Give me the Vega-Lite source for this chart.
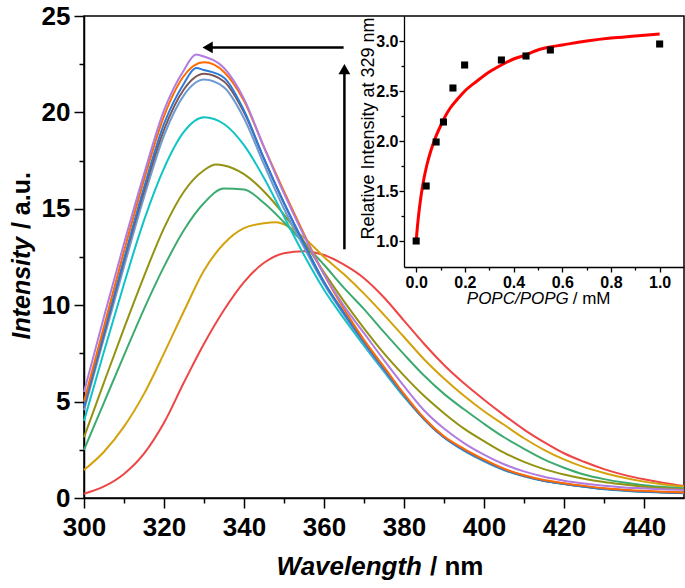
{
"$schema": "https://vega.github.io/schema/vega-lite/v6.json",
"width": 600, "height": 482,
"autosize": "none",
"padding": {"left": 84, "top": 16, "right": 1, "bottom": 90},
"background": "white",
"config": {
  "font": "Liberation Sans",
  "view": {"stroke": "black", "strokeWidth": 1.5},
  "axis": {"grid": false, "domainColor": "black", "tickColor": "black", "labelColor": "black", "titleColor": "black", "domainWidth": 1.5, "tickWidth": 1.5, "labelFont": "Liberation Sans", "titleFont": "Liberation Sans"}
},
"datasets": {
  "spec": [
{"s":"R","w":300,"v":0.22},{"s":"R","w":305,"v":0.6},{"s":"R","w":310,"v":1.25},{"s":"R","w":315,"v":2.3},{"s":"R","w":320,"v":3.9},{"s":"R","w":325,"v":6.0},{"s":"R","w":330,"v":8.0},{"s":"R","w":335,"v":9.75},{"s":"R","w":340,"v":11.2},{"s":"R","w":345,"v":12.2},{"s":"R","w":350,"v":12.7},{"s":"R","w":355,"v":12.8},{"s":"R","w":360,"v":12.6},{"s":"R","w":365,"v":12.1},{"s":"R","w":370,"v":11.4},{"s":"R","w":375,"v":10.4},{"s":"R","w":380,"v":9.2},{"s":"R","w":385,"v":8.0},{"s":"R","w":390,"v":6.9},{"s":"R","w":395,"v":5.95},{"s":"R","w":400,"v":5.1},{"s":"R","w":405,"v":4.3},{"s":"R","w":410,"v":3.55},{"s":"R","w":415,"v":2.9},{"s":"R","w":420,"v":2.32},{"s":"R","w":425,"v":1.88},{"s":"R","w":430,"v":1.5},{"s":"R","w":435,"v":1.2},{"s":"R","w":440,"v":0.97},{"s":"R","w":445,"v":0.78},{"s":"R","w":450,"v":0.62},
{"s":"Go","w":300,"v":1.45},{"s":"Go","w":305,"v":2.4},{"s":"Go","w":310,"v":3.7},{"s":"Go","w":315,"v":5.4},{"s":"Go","w":320,"v":7.5},{"s":"Go","w":325,"v":9.7},{"s":"Go","w":330,"v":11.8},{"s":"Go","w":335,"v":13.2},{"s":"Go","w":340,"v":14.0},{"s":"Go","w":345,"v":14.25},{"s":"Go","w":348,"v":14.3},{"s":"Go","w":350,"v":14.2},{"s":"Go","w":355,"v":13.5},{"s":"Go","w":360,"v":12.5},{"s":"Go","w":365,"v":11.6},{"s":"Go","w":370,"v":10.6},{"s":"Go","w":375,"v":9.5},{"s":"Go","w":380,"v":8.35},{"s":"Go","w":385,"v":7.2},{"s":"Go","w":390,"v":6.2},{"s":"Go","w":395,"v":5.3},{"s":"Go","w":400,"v":4.5},{"s":"Go","w":405,"v":3.8},{"s":"Go","w":410,"v":3.1},{"s":"Go","w":415,"v":2.5},{"s":"Go","w":420,"v":2.0},{"s":"Go","w":425,"v":1.6},{"s":"Go","w":430,"v":1.3},{"s":"Go","w":435,"v":1.05},{"s":"Go","w":440,"v":0.85},{"s":"Go","w":445,"v":0.7},{"s":"Go","w":450,"v":0.6},
{"s":"G","w":300,"v":2.5},{"s":"G","w":305,"v":4.95},{"s":"G","w":310,"v":7.4},{"s":"G","w":315,"v":9.8},{"s":"G","w":320,"v":12.0},{"s":"G","w":325,"v":13.9},{"s":"G","w":330,"v":15.3},{"s":"G","w":335,"v":16.05},{"s":"G","w":340,"v":16.0},{"s":"G","w":345,"v":15.3},{"s":"G","w":350,"v":14.3},{"s":"G","w":355,"v":13.2},{"s":"G","w":360,"v":12.1},{"s":"G","w":365,"v":10.9},{"s":"G","w":370,"v":9.8},{"s":"G","w":375,"v":8.6},{"s":"G","w":380,"v":7.45},{"s":"G","w":385,"v":6.35},{"s":"G","w":390,"v":5.4},{"s":"G","w":395,"v":4.6},{"s":"G","w":400,"v":3.85},{"s":"G","w":405,"v":3.15},{"s":"G","w":410,"v":2.55},{"s":"G","w":415,"v":2.0},{"s":"G","w":420,"v":1.57},{"s":"G","w":425,"v":1.22},{"s":"G","w":430,"v":0.98},{"s":"G","w":435,"v":0.8},{"s":"G","w":440,"v":0.66},{"s":"G","w":445,"v":0.57},{"s":"G","w":450,"v":0.5},
{"s":"Ol","w":300,"v":3.15},{"s":"Ol","w":305,"v":6.0},{"s":"Ol","w":310,"v":8.8},{"s":"Ol","w":315,"v":11.5},{"s":"Ol","w":320,"v":14.0},{"s":"Ol","w":325,"v":15.9},{"s":"Ol","w":330,"v":17.0},{"s":"Ol","w":333,"v":17.3},{"s":"Ol","w":335,"v":17.25},{"s":"Ol","w":340,"v":16.8},{"s":"Ol","w":345,"v":15.9},{"s":"Ol","w":350,"v":14.7},{"s":"Ol","w":355,"v":13.3},{"s":"Ol","w":360,"v":11.7},{"s":"Ol","w":365,"v":10.2},{"s":"Ol","w":370,"v":8.8},{"s":"Ol","w":375,"v":7.5},{"s":"Ol","w":380,"v":6.35},{"s":"Ol","w":385,"v":5.3},{"s":"Ol","w":390,"v":4.4},{"s":"Ol","w":395,"v":3.6},{"s":"Ol","w":400,"v":2.95},{"s":"Ol","w":405,"v":2.35},{"s":"Ol","w":410,"v":1.87},{"s":"Ol","w":415,"v":1.5},{"s":"Ol","w":420,"v":1.22},{"s":"Ol","w":425,"v":1.0},{"s":"Ol","w":430,"v":0.83},{"s":"Ol","w":435,"v":0.7},{"s":"Ol","w":440,"v":0.58},{"s":"Ol","w":445,"v":0.5},{"s":"Ol","w":450,"v":0.45},
{"s":"C","w":300,"v":4.0},{"s":"C","w":305,"v":7.6},{"s":"C","w":310,"v":11.1},{"s":"C","w":315,"v":14.4},{"s":"C","w":320,"v":17.1},{"s":"C","w":325,"v":19.0},{"s":"C","w":330,"v":19.75},{"s":"C","w":335,"v":19.4},{"s":"C","w":340,"v":18.3},{"s":"C","w":345,"v":16.6},{"s":"C","w":350,"v":14.6},{"s":"C","w":355,"v":12.6},{"s":"C","w":360,"v":10.8},{"s":"C","w":365,"v":9.3},{"s":"C","w":370,"v":7.9},{"s":"C","w":375,"v":6.55},{"s":"C","w":380,"v":5.25},{"s":"C","w":385,"v":4.1},{"s":"C","w":390,"v":3.15},{"s":"C","w":395,"v":2.45},{"s":"C","w":400,"v":1.9},{"s":"C","w":405,"v":1.45},{"s":"C","w":410,"v":1.12},{"s":"C","w":415,"v":0.88},{"s":"C","w":420,"v":0.72},{"s":"C","w":425,"v":0.58},{"s":"C","w":430,"v":0.46},{"s":"C","w":435,"v":0.38},{"s":"C","w":440,"v":0.32},{"s":"C","w":445,"v":0.28},{"s":"C","w":450,"v":0.25},
{"s":"S","w":300,"v":4.55},{"s":"S","w":305,"v":8.3},{"s":"S","w":310,"v":12.0},{"s":"S","w":315,"v":15.6},{"s":"S","w":320,"v":18.8},{"s":"S","w":325,"v":20.9},{"s":"S","w":330,"v":21.7},{"s":"S","w":335,"v":21.3},{"s":"S","w":340,"v":19.7},{"s":"S","w":345,"v":17.3},{"s":"S","w":350,"v":15.0},{"s":"S","w":355,"v":13.0},{"s":"S","w":360,"v":11.1},{"s":"S","w":365,"v":9.5},{"s":"S","w":370,"v":8.0},{"s":"S","w":375,"v":6.6},{"s":"S","w":380,"v":5.3},{"s":"S","w":385,"v":4.1},{"s":"S","w":390,"v":3.15},{"s":"S","w":395,"v":2.45},{"s":"S","w":400,"v":1.92},{"s":"S","w":405,"v":1.46},{"s":"S","w":410,"v":1.13},{"s":"S","w":415,"v":0.89},{"s":"S","w":420,"v":0.73},{"s":"S","w":425,"v":0.59},{"s":"S","w":430,"v":0.47},{"s":"S","w":435,"v":0.39},{"s":"S","w":440,"v":0.33},{"s":"S","w":445,"v":0.29},{"s":"S","w":450,"v":0.26},
{"s":"Br","w":300,"v":4.7},{"s":"Br","w":305,"v":8.5},{"s":"Br","w":310,"v":12.3},{"s":"Br","w":315,"v":15.9},{"s":"Br","w":320,"v":19.1},{"s":"Br","w":325,"v":21.2},{"s":"Br","w":330,"v":22.0},{"s":"Br","w":335,"v":21.6},{"s":"Br","w":340,"v":20.0},{"s":"Br","w":345,"v":17.6},{"s":"Br","w":350,"v":15.3},{"s":"Br","w":355,"v":13.2},{"s":"Br","w":360,"v":11.2},{"s":"Br","w":365,"v":9.6},{"s":"Br","w":370,"v":8.1},{"s":"Br","w":375,"v":6.7},{"s":"Br","w":380,"v":5.35},{"s":"Br","w":385,"v":4.1},{"s":"Br","w":390,"v":3.15},{"s":"Br","w":395,"v":2.5},{"s":"Br","w":400,"v":1.95},{"s":"Br","w":405,"v":1.48},{"s":"Br","w":410,"v":1.15},{"s":"Br","w":415,"v":0.9},{"s":"Br","w":420,"v":0.74},{"s":"Br","w":425,"v":0.6},{"s":"Br","w":430,"v":0.48},{"s":"Br","w":435,"v":0.4},{"s":"Br","w":440,"v":0.34},{"s":"Br","w":445,"v":0.3},{"s":"Br","w":450,"v":0.27},
{"s":"B","w":300,"v":4.75},{"s":"B","w":305,"v":8.6},{"s":"B","w":310,"v":12.4},{"s":"B","w":315,"v":16.1},{"s":"B","w":320,"v":19.4},{"s":"B","w":325,"v":21.5},{"s":"B","w":328,"v":22.3},{"s":"B","w":330,"v":22.2},{"s":"B","w":335,"v":21.8},{"s":"B","w":340,"v":20.1},{"s":"B","w":345,"v":17.6},{"s":"B","w":350,"v":15.3},{"s":"B","w":355,"v":13.2},{"s":"B","w":360,"v":11.2},{"s":"B","w":365,"v":9.6},{"s":"B","w":370,"v":8.1},{"s":"B","w":375,"v":6.7},{"s":"B","w":380,"v":5.35},{"s":"B","w":385,"v":4.1},{"s":"B","w":390,"v":3.15},{"s":"B","w":395,"v":2.5},{"s":"B","w":400,"v":1.95},{"s":"B","w":405,"v":1.48},{"s":"B","w":410,"v":1.15},{"s":"B","w":415,"v":0.9},{"s":"B","w":420,"v":0.74},{"s":"B","w":425,"v":0.6},{"s":"B","w":430,"v":0.48},{"s":"B","w":435,"v":0.4},{"s":"B","w":440,"v":0.34},{"s":"B","w":445,"v":0.3},{"s":"B","w":450,"v":0.26},
{"s":"O","w":300,"v":5.0},{"s":"O","w":305,"v":8.9},{"s":"O","w":310,"v":12.8},{"s":"O","w":315,"v":16.5},{"s":"O","w":320,"v":19.8},{"s":"O","w":325,"v":21.9},{"s":"O","w":330,"v":22.6},{"s":"O","w":335,"v":22.1},{"s":"O","w":340,"v":20.6},{"s":"O","w":345,"v":18.2},{"s":"O","w":350,"v":15.9},{"s":"O","w":355,"v":13.7},{"s":"O","w":360,"v":11.6},{"s":"O","w":365,"v":9.8},{"s":"O","w":370,"v":8.2},{"s":"O","w":375,"v":6.8},{"s":"O","w":380,"v":5.4},{"s":"O","w":385,"v":4.15},{"s":"O","w":390,"v":3.2},{"s":"O","w":395,"v":2.55},{"s":"O","w":400,"v":2.0},{"s":"O","w":405,"v":1.52},{"s":"O","w":410,"v":1.18},{"s":"O","w":415,"v":0.93},{"s":"O","w":420,"v":0.77},{"s":"O","w":425,"v":0.63},{"s":"O","w":430,"v":0.51},{"s":"O","w":435,"v":0.43},{"s":"O","w":440,"v":0.37},{"s":"O","w":445,"v":0.33},{"s":"O","w":450,"v":0.29},
{"s":"P","w":300,"v":5.5},{"s":"P","w":305,"v":9.4},{"s":"P","w":310,"v":13.2},{"s":"P","w":315,"v":16.8},{"s":"P","w":320,"v":20.1},{"s":"P","w":325,"v":22.2},{"s":"P","w":328,"v":23.0},{"s":"P","w":330,"v":22.9},{"s":"P","w":335,"v":22.3},{"s":"P","w":340,"v":20.7},{"s":"P","w":345,"v":18.2},{"s":"P","w":350,"v":15.8},{"s":"P","w":355,"v":13.6},{"s":"P","w":360,"v":11.6},{"s":"P","w":365,"v":9.95},{"s":"P","w":370,"v":8.55},{"s":"P","w":375,"v":7.15},{"s":"P","w":380,"v":5.8},{"s":"P","w":385,"v":4.55},{"s":"P","w":390,"v":3.6},{"s":"P","w":395,"v":2.85},{"s":"P","w":400,"v":2.25},{"s":"P","w":405,"v":1.75},{"s":"P","w":410,"v":1.38},{"s":"P","w":415,"v":1.1},{"s":"P","w":420,"v":0.9},{"s":"P","w":425,"v":0.75},{"s":"P","w":430,"v":0.63},{"s":"P","w":435,"v":0.55},{"s":"P","w":440,"v":0.5},{"s":"P","w":445,"v":0.45},{"s":"P","w":450,"v":0.42}
  ],
  "arrows": [
    {"x1": 364.9, "x2": 331.0, "y1": 23.37, "y2": 23.37},
    {"x1": 365.1, "x2": 365.1, "y1": 12.9, "y2": 22.2}
  ],
  "heads": [
    {"hx": 330.9, "hy": 23.37, "dir": "left"},
    {"hx": 365.1, "hy": 22.25, "dir": "up"}
  ],
  "pts": [
    {"c": 0.0, "r": 1.0}, {"c": 0.041, "r": 1.55}, {"c": 0.082, "r": 1.99}, {"c": 0.112, "r": 2.19},
    {"c": 0.151, "r": 2.53}, {"c": 0.199, "r": 2.76}, {"c": 0.35, "r": 2.81}, {"c": 0.451, "r": 2.85},
    {"c": 0.551, "r": 2.91}, {"c": 1.0, "r": 2.97}
  ],
  "fit": [
    {"c": 0.0, "r": 1.0}, {"c": 0.005, "r": 1.14}, {"c": 0.01, "r": 1.26}, {"c": 0.02, "r": 1.45},
    {"c": 0.03, "r": 1.6}, {"c": 0.045, "r": 1.77}, {"c": 0.06, "r": 1.9}, {"c": 0.08, "r": 2.04},
    {"c": 0.1, "r": 2.15}, {"c": 0.12, "r": 2.25}, {"c": 0.14, "r": 2.33}, {"c": 0.17, "r": 2.42},
    {"c": 0.2, "r": 2.5}, {"c": 0.25, "r": 2.6}, {"c": 0.3, "r": 2.69}, {"c": 0.35, "r": 2.76},
    {"c": 0.4, "r": 2.82}, {"c": 0.45, "r": 2.86}, {"c": 0.5, "r": 2.91}, {"c": 0.55, "r": 2.94},
    {"c": 0.6, "r": 2.96}, {"c": 0.7, "r": 3.0}, {"c": 0.8, "r": 3.03}, {"c": 0.9, "r": 3.05}, {"c": 1.0, "r": 3.07}
  ],
  "one": [{}]
},
"layer": [
  {
    "layer": [
      {
        "data": {"name": "spec"},
        "mark": {"type": "line", "strokeWidth": 2, "interpolate": "monotone"},
        "encoding": {
          "x": {"field": "w", "type": "quantitative", "scale": {"domain": [300, 450], "nice": false, "zero": false},
                "axis": {"orient": "bottom", "values": [300, 320, 340, 360, 380, 400, 420, 440], "format": "d", "title": null, "tickSize": 10, "labelPadding": 6, "labelFontSize": 26, "labelFontWeight": "bold", "labelFlush": false, "labelOverlap": false}},
          "y": {"field": "v", "type": "quantitative", "scale": {"domain": [0, 25], "nice": false, "zero": false},
                "axis": {"orient": "left", "values": [0, 5, 10, 15, 20, 25], "format": "d", "title": null, "tickSize": 10, "labelPadding": 4, "labelFontSize": 26, "labelFontWeight": "bold", "labelFlush": false, "labelOverlap": false}},
          "color": {"field": "s", "type": "nominal", "legend": null,
                    "scale": {"domain": ["R", "Go", "G", "Ol", "C", "S", "Br", "B", "O", "P"],
                              "range": ["#EE4545", "#D4A20C", "#3DAB6F", "#939312", "#10C4C6", "#6E9CD2", "#7D5555", "#2D7BD8", "#FF6A00", "#B07CE0"]}}
        }
      },
      {
        "data": {"name": "arrows"},
        "mark": {"type": "rule", "color": "black", "strokeWidth": 2.5},
        "encoding": {
          "x": {"field": "x1", "type": "quantitative", "scale": {"domain": [300, 450], "nice": false, "zero": false},
                "axis": {"orient": "bottom", "values": [310, 330, 350, 370, 390, 410, 430], "labels": false, "domain": false, "title": null, "tickSize": 5}},
          "x2": {"field": "x2"},
          "y": {"field": "y1", "type": "quantitative", "scale": {"domain": [0, 25], "nice": false, "zero": false},
                "axis": {"orient": "left", "values": [2.5, 7.5, 12.5, 17.5, 22.5], "labels": false, "domain": false, "title": null, "tickSize": 5}},
          "y2": {"field": "y2"}
        }
      },
      {
        "data": {"name": "heads"},
        "mark": {"type": "point", "filled": true, "color": "black", "opacity": 1, "size": 140},
        "encoding": {
          "x": {"field": "hx", "type": "quantitative", "scale": {"domain": [300, 450], "nice": false, "zero": false}, "axis": null},
          "y": {"field": "hy", "type": "quantitative", "scale": {"domain": [0, 25], "nice": false, "zero": false}, "axis": null},
          "shape": {"field": "dir", "type": "nominal", "legend": null, "scale": {"domain": ["left", "up"], "range": ["triangle-left", "triangle-up"]}}
        }
      },
      {
        "data": {"name": "one"},
        "mark": {"type": "text", "text": "Wavelength", "fontSize": 26, "fontWeight": "bold", "fontStyle": "italic", "align": "right", "baseline": "alphabetic", "color": "black"},
        "encoding": {
          "x": {"datum": 384.5, "type": "quantitative", "scale": {"domain": [300, 450], "nice": false, "zero": false}, "axis": null},
          "y": {"datum": -4.0, "type": "quantitative", "scale": {"domain": [0, 25], "nice": false, "zero": false}, "axis": null}
        }
      },
      {
        "data": {"name": "one"},
        "mark": {"type": "text", "text": "/ nm", "fontSize": 26, "fontWeight": "bold", "align": "left", "baseline": "alphabetic", "color": "black"},
        "encoding": {
          "x": {"datum": 386.5, "type": "quantitative", "scale": {"domain": [300, 450], "nice": false, "zero": false}, "axis": null},
          "y": {"datum": -4.0, "type": "quantitative", "scale": {"domain": [0, 25], "nice": false, "zero": false}, "axis": null}
        }
      },
      {
        "data": {"name": "one"},
        "mark": {"type": "text", "text": "Intensity", "fontSize": 25, "fontWeight": "bold", "fontStyle": "italic", "align": "right", "baseline": "middle", "angle": 270, "color": "black"},
        "encoding": {
          "x": {"datum": 284.5, "type": "quantitative", "scale": {"domain": [300, 450], "nice": false, "zero": false}, "axis": null},
          "y": {"datum": 13.55, "type": "quantitative", "scale": {"domain": [0, 25], "nice": false, "zero": false}, "axis": null}
        }
      },
      {
        "data": {"name": "one"},
        "mark": {"type": "text", "text": "/ a.u.", "fontSize": 25, "fontWeight": "bold", "align": "left", "baseline": "middle", "angle": 270, "color": "black"},
        "encoding": {
          "x": {"datum": 284.5, "type": "quantitative", "scale": {"domain": [300, 450], "nice": false, "zero": false}, "axis": null},
          "y": {"datum": 13.95, "type": "quantitative", "scale": {"domain": [0, 25], "nice": false, "zero": false}, "axis": null}
        }
      }
    ],
    "resolve": {"axis": {"x": "independent", "y": "independent"}}
  },
  {
    "layer": [
      {
        "data": {"name": "fit"},
        "mark": {"type": "line", "color": "#FF0000", "strokeWidth": 3, "interpolate": "monotone"},
        "encoding": {
          "x": {"field": "c", "type": "quantitative", "scale": {"domain": [-0.05, 1.1], "range": [320, 600], "nice": false, "zero": false},
                "axis": {"orient": "bottom", "offset": -231, "values": [0, 0.2, 0.4, 0.6, 0.8, 1.0], "format": ".1f", "title": null, "tickSize": 5, "labelPadding": 2, "labelFontSize": 16, "labelFontWeight": "bold", "labelFlush": false, "labelOverlap": false, "domainWidth": 1.3, "tickWidth": 1.3}},
          "y": {"field": "r", "type": "quantitative", "scale": {"domain": [0.74, 3.25], "range": [251, 0], "nice": false, "zero": false},
                "axis": {"orient": "left", "offset": -320, "values": [1.0, 1.5, 2.0, 2.5, 3.0], "format": ".1f", "title": "Relative Intensity at 329 nm", "titleFontSize": 18, "titleFontWeight": "normal", "titleX": -27, "titleY": 112, "tickSize": 5, "labelPadding": 1, "labelFontSize": 16, "labelFontWeight": "bold", "labelFlush": false, "labelOverlap": false, "domainWidth": 1.3, "tickWidth": 1.3}}
        }
      },
      {
        "data": {"name": "pts"},
        "mark": {"type": "square", "color": "black", "filled": true, "opacity": 1, "size": 50},
        "encoding": {
          "x": {"field": "c", "type": "quantitative", "scale": {"domain": [-0.05, 1.1], "range": [320, 600], "nice": false, "zero": false},
                "axis": {"orient": "bottom", "offset": -231, "values": [0.1, 0.3, 0.5, 0.7, 0.9], "labels": false, "domain": false, "title": null, "tickSize": 3, "tickWidth": 1.3}},
          "y": {"field": "r", "type": "quantitative", "scale": {"domain": [0.74, 3.25], "range": [251, 0], "nice": false, "zero": false},
                "axis": {"orient": "left", "offset": -320, "values": [1.25, 1.75, 2.25, 2.75], "labels": false, "domain": false, "title": null, "tickSize": 3, "tickWidth": 1.3}}
        }
      },
      {
        "data": {"name": "one"},
        "mark": {"type": "text", "text": "POPC/POPG", "fontSize": 17, "fontStyle": "italic", "align": "right", "baseline": "middle", "color": "black"},
        "encoding": {
          "x": {"datum": 0.627, "type": "quantitative", "scale": {"domain": [-0.05, 1.1], "range": [320, 600], "nice": false, "zero": false}, "axis": null},
          "y": {"datum": 0.42, "type": "quantitative", "scale": {"domain": [0.74, 3.25], "range": [251, 0], "nice": false, "zero": false}, "axis": null}
        }
      },
      {
        "data": {"name": "one"},
        "mark": {"type": "text", "text": "/ mM", "fontSize": 17, "align": "left", "baseline": "middle", "color": "black"},
        "encoding": {
          "x": {"datum": 0.643, "type": "quantitative", "scale": {"domain": [-0.05, 1.1], "range": [320, 600], "nice": false, "zero": false}, "axis": null},
          "y": {"datum": 0.42, "type": "quantitative", "scale": {"domain": [0.74, 3.25], "range": [251, 0], "nice": false, "zero": false}, "axis": null}
        }
      }
    ],
    "resolve": {"axis": {"x": "independent", "y": "independent"}}
  }
],
"resolve": {"scale": {"x": "independent", "y": "independent", "color": "independent", "shape": "independent"}, "axis": {"x": "independent", "y": "independent"}}
}
